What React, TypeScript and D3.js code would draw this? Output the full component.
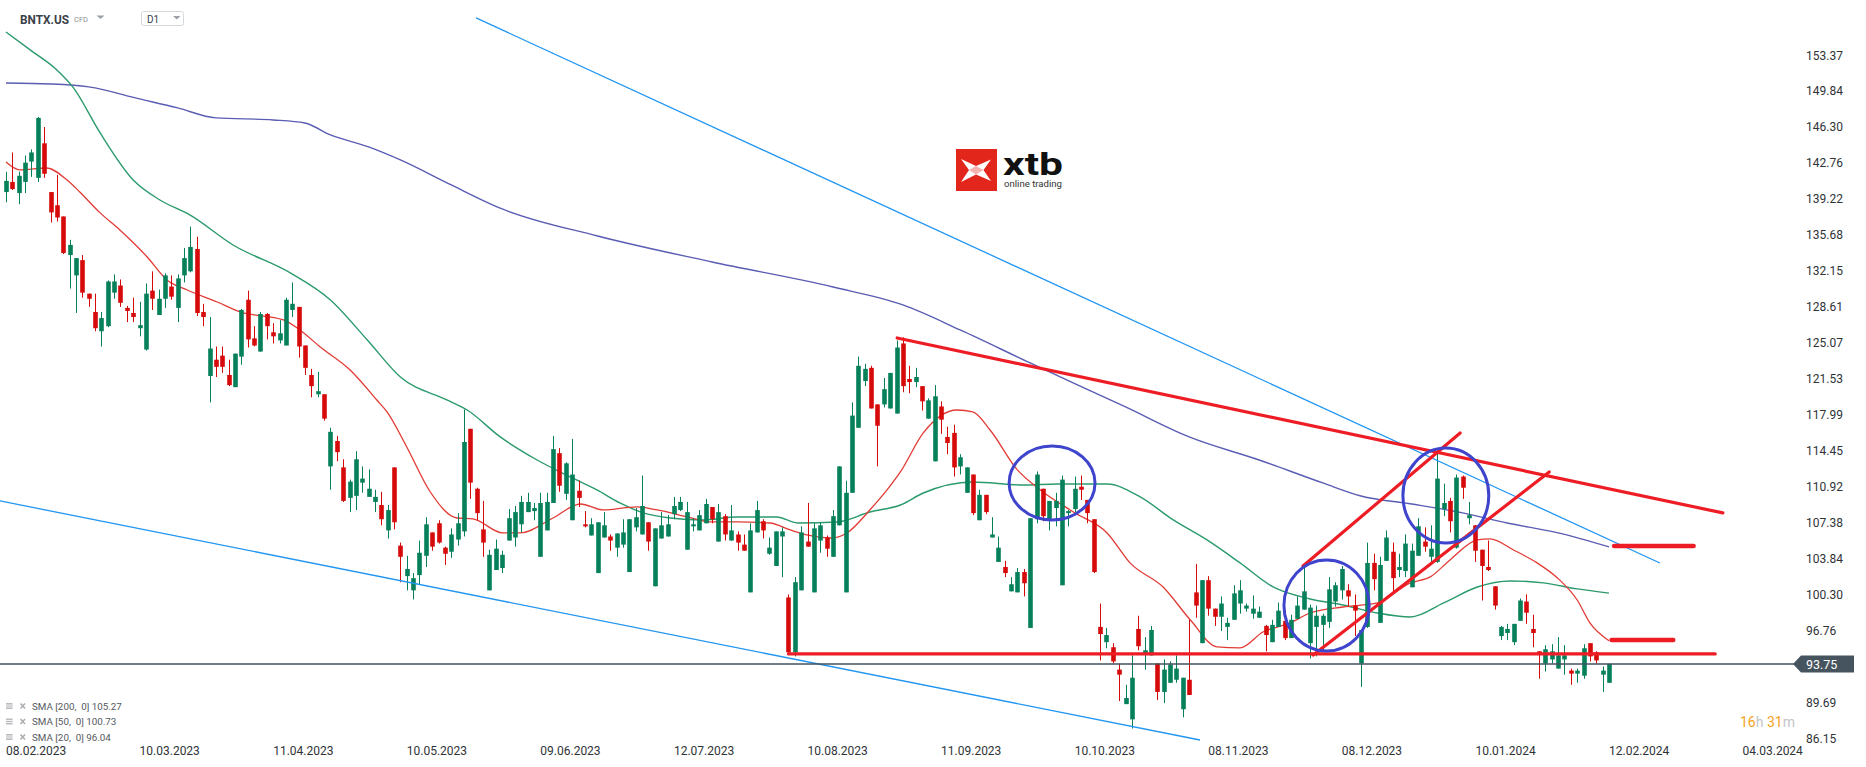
import React from 'react';
import * as d3 from 'd3';

const W = 1866;
const H = 767;

// OHLC per trading day, index 0 = 08.02.2023, index 252 = 12.02.2024
const opens = [140.2,141.2,140.1,141.2,143.2,141.6,145.0,140.2,138.9,137.8,134.0,132.0,133.5,130.2,128.4,126.5,127.0,130.3,131.0,128.8,128.3,126.8,124.7,130.5,128.1,129.7,130.9,128.8,132.0,132.4,134.6,128.4,122.1,123.7,124.1,122.2,121.0,124.0,129.6,125.8,124.5,128.2,126.4,125.6,125.1,128.6,128.9,125.1,122.2,120.3,120.3,113.2,115.7,113.1,110.1,110.3,111.6,110.2,109.7,109.4,106.9,113.1,105.4,102.4,101.0,102.5,104.4,106.7,107.6,105.2,104.8,106.0,106.8,116.9,111.0,107.0,101.0,103.0,103.2,105.9,106.2,107.5,108.7,108.8,104.3,106.9,109.6,114.5,110.5,107.9,110.8,107.5,106.4,102.7,106.2,106.3,105.2,105.5,102.8,107.2,106.5,107.7,101.4,106.1,106.3,108.5,108.9,105.0,107.3,106.9,107.6,109.2,105.8,108.3,105.9,106.5,105.5,100.8,106.7,107.8,104.6,103.4,106.3,100.3,94.9,101.0,105.8,100.8,105.9,106.2,104.3,107.4,100.8,110.6,117.0,121.6,122.9,119.3,119.3,118.9,118.4,125.3,121.8,121.5,121.1,117.9,113.7,119.1,116.1,116.5,113.2,110.6,112.4,107.9,110.4,106.2,103.8,103.3,100.9,100.8,102.8,97.3,108.0,111.0,108.0,109.1,101.5,108.6,109.0,111.2,109.9,108.0,97.4,95.9,95.4,93.2,89.8,88.3,97.2,94.8,94.6,93.8,91.0,91.9,92.2,89.3,92.2,100.8,95.8,102.0,99.2,98.4,97.4,98.1,99.7,99.2,98.7,98.3,97.5,95.9,97.4,98.0,96.3,98.2,99.1,95.8,97.4,97.6,97.9,99.9,101.0,101.0,99.5,93.8,97.4,103.7,97.8,103.9,104.8,103.0,102.9,101.3,104.4,105.8,104.3,103.8,109.0,109.8,105.2,112.2,108.1,107.4,105.0,103.3,101.4,96.5,96.8,95.9,98.0,99.9,97.2,95.0,93.8,94.2,93.3,94.2,93.1,92.8,92.6,95.8,94.9,92.7,91.9];
const highs = [142.2,144.1,142.2,143.8,144.4,147.6,146.6,140.2,141.9,137.8,135.5,133.7,134.0,130.2,130.2,128.4,131.5,132.1,131.6,129.0,129.8,129.4,131.2,132.4,130.6,132.2,132.0,132.1,134.7,136.8,135.8,129.2,127.9,125.0,125.0,123.7,124.3,128.7,130.5,127.0,128.4,128.3,127.3,127.6,129.8,131.3,128.9,125.1,122.8,122.5,120.3,117.0,116.2,113.9,111.9,114.7,113.2,112.9,110.9,110.7,109.4,113.1,105.7,104.4,102.7,105.9,108.2,106.7,107.9,105.3,107.1,108.6,118.8,116.9,111.1,109.8,105.0,106.0,104.9,109.0,109.3,110.3,110.6,109.6,110.6,110.6,116.2,115.0,113.6,115.9,111.8,108.8,108.1,107.7,108.7,106.5,106.6,108.0,108.0,109.1,112.3,107.7,107.1,108.7,108.4,110.2,110.2,109.7,108.1,108.9,110.0,109.2,109.5,108.5,109.4,106.8,106.5,107.6,109.8,108.0,106.2,106.8,107.2,100.6,102.3,107.3,109.6,107.6,107.7,106.4,108.9,113.2,111.8,119.5,124.0,123.3,123.1,119.3,121.9,122.4,125.6,125.9,123.1,122.9,121.1,119.9,121.2,119.6,117.1,117.3,114.4,113.1,112.4,110.9,110.4,108.2,106.3,103.9,102.3,103.2,103.1,108.1,112.7,111.0,109.8,110.6,112.3,108.9,112.2,112.3,109.9,108.0,99.7,97.3,95.8,93.8,91.7,94.6,98.5,96.4,97.5,93.8,94.2,94.0,94.6,92.4,98.1,103.6,102.0,102.4,99.2,100.4,98.3,101.5,102.0,99.7,100.5,99.4,97.6,98.1,99.8,99.0,98.6,100.4,103.2,99.6,99.5,98.7,102.3,101.8,103.4,101.6,100.6,97.1,105.7,104.6,104.3,106.9,105.7,104.6,106.5,105.6,108.1,107.2,107.4,114.6,111.5,110.1,112.4,112.3,109.7,107.4,105.0,105.9,101.4,97.5,97.7,97.7,100.2,100.6,98.6,95.0,95.6,95.7,96.4,95.6,93.3,93.3,95.7,95.8,95.0,93.5,93.8];
const lows = [139.2,140.4,139.0,140.1,141.7,141.2,141.6,137.2,137.3,134.1,130.7,128.3,129.8,128.9,126.5,125.0,126.9,129.7,128.9,127.4,127.4,126.0,124.6,128.6,128.1,128.8,129.6,127.4,131.3,132.3,128.0,127.0,119.5,122.0,122.4,121.1,121.0,123.2,124.9,125.0,124.5,125.7,125.3,125.3,125.1,127.9,123.9,122.2,120.0,120.0,117.7,110.9,113.7,109.7,108.7,108.9,110.6,110.2,108.7,107.4,106.1,107.0,101.8,101.0,100.1,101.6,103.3,104.9,105.6,103.5,104.2,105.4,106.3,110.0,107.9,104.3,101.0,103.0,102.7,105.9,105.3,106.7,108.7,107.9,104.3,106.9,109.6,110.7,109.9,107.9,109.2,107.2,106.4,102.7,106.2,104.9,104.3,105.2,102.8,106.8,106.5,104.9,101.4,106.1,106.3,108.0,108.8,105.0,106.8,106.9,107.6,107.6,105.8,105.9,105.9,104.9,104.9,100.8,106.7,106.1,104.5,103.4,102.3,94.8,94.5,101.0,105.3,100.8,104.7,104.3,104.3,107.4,100.8,110.6,117.0,121.1,118.9,113.2,119.0,118.9,118.4,120.5,120.4,121.0,118.7,117.9,113.7,116.4,114.4,112.2,112.4,110.6,108.4,107.9,108.5,106.2,103.8,102.3,100.9,100.8,100.4,97.3,107.6,107.8,106.9,107.3,101.5,107.3,108.7,109.9,107.6,102.7,94.1,95.3,93.8,90.1,89.8,87.4,95.1,93.2,94.6,90.2,89.9,91.9,91.9,88.5,90.7,98.3,95.8,98.5,97.5,97.0,96.1,98.1,98.7,98.9,98.2,98.3,95.0,95.9,97.4,96.1,96.3,98.2,99.1,94.3,94.5,95.1,97.3,99.4,100.1,99.4,96.5,91.5,97.3,101.0,97.8,103.9,100.9,102.3,102.3,101.3,104.4,104.8,103.7,103.7,108.3,106.7,105.1,110.0,107.5,103.8,100.0,102.9,99.1,96.1,96.1,95.6,98.0,97.7,95.4,92.3,93.0,93.8,93.3,92.7,91.7,91.9,92.3,94.0,93.8,91.0,91.9];
const closes = [141.3,140.5,141.8,143.1,144.1,147.5,142.0,138.2,137.7,134.2,135.0,133.7,130.3,129.7,126.8,127.8,131.4,131.4,129.3,128.5,127.9,127.1,130.2,129.7,129.7,132.0,129.9,131.7,133.7,134.8,128.3,127.9,124.8,123.0,123.0,121.2,124.3,128.6,125.7,125.1,128.2,127.0,126.0,126.3,129.6,129.2,125.0,122.9,121.1,120.6,117.9,116.6,114.6,109.8,111.7,113.9,112.0,111.0,110.2,108.0,108.9,107.7,104.3,103.1,102.2,104.7,107.5,105.3,105.7,104.6,106.5,107.6,115.6,111.6,108.6,105.7,104.5,105.1,104.5,108.1,108.7,109.7,109.7,109.1,109.6,109.7,114.9,111.3,113.5,112.4,110.1,107.3,107.5,107.7,107.4,105.9,106.6,106.7,108.0,108.2,109.3,105.8,107.1,107.4,107.5,109.3,109.7,108.7,107.5,108.4,109.5,108.0,108.7,106.5,106.9,105.7,104.9,106.9,108.9,106.9,105.2,106.8,106.8,94.9,101.8,106.7,105.3,107.1,107.4,105.1,108.3,113.2,110.6,118.2,123.1,122.8,118.9,117.2,120.8,122.4,124.9,121.1,121.5,122.0,119.6,119.7,120.1,117.8,115.5,113.1,114.1,113.1,108.6,110.4,108.7,106.5,105.2,102.7,101.6,102.8,101.7,108.1,112.4,108.3,109.8,109.8,111.9,108.8,111.0,110.9,108.6,102.8,96.7,96.6,94.0,92.7,90.4,92.4,95.5,95.1,97.1,91.0,93.2,93.7,93.3,92.4,90.7,99.5,102.0,99.2,98.4,99.7,97.8,100.7,101.0,99.5,99.2,98.9,96.6,97.6,99.0,96.3,98.1,99.5,100.9,99.3,98.5,98.5,101.1,101.5,103.1,100.4,99.0,97.1,103.7,102.1,103.5,106.2,102.2,103.3,105.6,104.9,107.3,105.3,105.1,112.0,109.6,107.8,112.1,111.1,108.4,104.9,103.4,103.0,99.5,97.4,97.2,97.7,100.0,98.8,96.8,94.7,95.2,95.0,94.6,94.6,92.8,93.1,95.3,94.5,94.1,93.1,93.75];

// Moving averages: [day index, value]
const sma200 = [[0,150.94],[7,150.84],[13,150.55],[21,149.37],[27,148.48],[33,147.5],[42,147.3],[47,147.0],[51,145.82],[57,144.64],[62,143.36],[70,140.9],[78,138.54],[93,135.88],[111,133.32],[130,130.86],[141,129.09],[150,126.63],[161,123.38],[176,119.05],[186,116.1],[197,113.83],[207,111.57],[213,110.29],[221,109.5],[229,108.62],[236,107.63],[244,106.65],[252,105.27]];
const sma50 = [[0,155.96],[3.8,154.19],[8,152.22],[10.5,150.55],[14.8,146.02],[20,141.39],[24.2,139.42],[28.9,137.95],[35.7,134.99],[44.7,132.24],[51,129.58],[56.8,125.64],[62,122.0],[69.3,119.74],[72.5,118.75],[77.7,116.1],[83.5,113.83],[88.7,112.16],[92.9,110.88],[96.5,109.6],[100.2,108.62],[104.4,108.12],[109.6,107.93],[114.9,108.22],[121.2,108.22],[124.4,107.63],[130.7,107.73],[135.8,108.71],[140.6,109.4],[144.2,110.58],[152,111.67],[159.9,111.37],[165.3,111.47],[173.1,111.47],[178.3,110.19],[183.5,107.93],[188.8,105.96],[194,103.7],[199.2,101.33],[205,100.15],[210.2,99.56],[215.6,98.77],[220.8,98.38],[226,99.76],[231.3,101.33],[236.5,101.92],[241.7,101.73],[247,101.14],[252,100.73]];
const sma20 = [[0,143.16],[2.2,142.38],[6.4,142.57],[9.6,141.39],[11.6,140.21],[14.8,138.15],[17.9,136.47],[22.2,133.81],[25.3,131.55],[28.5,130.56],[33.2,129.38],[36.8,128.4],[43.6,127.61],[46.2,126.63],[49.4,124.95],[54.1,122.69],[58.3,119.73],[59.9,118.56],[63,115.11],[66.7,110.68],[70.9,108.12],[73.4,108.03],[78.1,106.65],[80.8,106.65],[86,108.12],[90.3,109.5],[93.9,108.91],[99.2,109.21],[102.4,108.91],[107.1,108.22],[110.7,107.73],[114.9,107.73],[120.1,107.63],[123.3,106.94],[125.9,106.45],[129.6,106.15],[132.2,106.65],[135.8,108.91],[138.5,110.88],[140.6,112.65],[144.2,116.49],[149.5,118.75],[152,118.56],[154.7,116.78],[159,112.85],[162.6,110.88],[167.8,108.71],[173.1,106.65],[176.7,103.7],[181.9,101.33],[186.2,98.08],[190.4,95.43],[194,95.33],[197.6,96.9],[201.9,97.79],[205,98.77],[210.2,99.36],[215.6,99.76],[220.8,101.73],[223.9,102.32],[227,103.99],[231.3,105.96],[233.3,106.06],[237,104.97],[240.7,103.7],[243.9,102.22],[247,100.05],[249,97.79],[252,96.04]];

const dateLabels = ['08.02.2023','10.03.2023','11.04.2023','10.05.2023','09.06.2023','12.07.2023','10.08.2023','11.09.2023','10.10.2023','08.11.2023','08.12.2023','10.01.2024','12.02.2024','04.03.2024'];
const dateLabelIdx = [0,21,42,63,84,105,126,147,168,189,210,231,252,273];

const priceTicks = [153.37,149.84,146.30,142.76,139.22,135.68,132.15,128.61,125.07,121.53,117.99,114.45,110.92,107.38,103.84,100.30,96.76,93.23,89.69,86.15];
const lastPrice = 93.75;

const legendItems = ['SMA [200,  0] 105.27','SMA [50,  0] 100.73','SMA [20,  0] 96.04'];

// Drawn annotations, in [day index, price]
const blueTrendLines = [
  [[73.9,157.34],[260.0,103.69]],
  [[-0.94,109.8],[187.7,86.27]],
];
const redThickLines = [
  [[140.1,125.84],[269.9,108.62]],
  [[123,94.74],[268.7,94.74]],
  [[203.9,103.4],[228.6,116.49]],
  [[205.5,94.64],[242.6,112.65]],
];
const redLevelMarks = [
  [[252.8,105.37],[265.3,105.37]],
  [[252.4,96.1],[262.1,96.1]],
];
const circles = [
  [[157.7,115.21],[171.2,107.93]],
  [[200.9,103.99],[214.3,95.03]],
  [[219.6,115.01],[233.1,105.66]],
];

const GREEN = '#06805a';
const RED = '#d60a0a';
const FONT = 'Roboto, "Noto Sans", Arial, sans-serif';

export default function App() {
  const x = d3.scaleLinear().domain([0, 252]).range([6, 1609]);
  const y = d3.scaleLinear().domain([93.75, 153.37]).range([664, 664 - (153.37 - 93.75) * 10.16]);
  const smaLine = d3.line<number[]>().x(d => x(d[0])).y(d => y(d[1])).curve(d3.curveMonotoneX);
  const seg = d3.line<number[]>().x(d => x(d[0])).y(d => y(d[1]));
  const bw = 4.6;
  const lastY = y(lastPrice);

  return (
    <svg width={W} height={H} style={{ position: 'absolute', left: 0, top: 0, display: 'block', background: '#fff' }} fontFamily={FONT}>
      <defs>
        <clipPath id="plot"><rect x={0} y={0} width={1790} height={767} /></clipPath>
      </defs>
      <rect x={0} y={0} width={W} height={H} fill="#ffffff" />

      {/* header */}
      <text x={20} y={24} fontSize={13} fontWeight={700} fill="#3b4148" textLength={49} lengthAdjust="spacingAndGlyphs">BNTX.US</text>
      <text x={74} y={22} fontSize={7.5} fill="#8a8f94">CFD</text>
      <path d="M96.5,15.5 L104.5,15.5 L100.5,19 Z" fill="#9aa0a6" />
      <rect x={141.5} y={11.5} width={42} height={14} rx={2} fill="#fff" stroke="#d5d8db" />
      <text x={147} y={23} fontSize={10} fill="#3b4148">D1</text>
      <path d="M173,16 L180.5,16 L176.75,19.5 Z" fill="#9aa0a6" />

      {/* xtb logo */}
      <rect x={956} y={149} width={41} height={42} fill="#e3261c" />
      <path d="M961,159 L976,166 L991,159.5 L983.5,170 L991,181 L976,174.5 L961,182 L969,170 Z" fill="#fff" />
      <path d="M969,170 L983.5,170 L976,166 Z M969,170 L983.5,170 L976,174.5 Z" fill="#e3261c" opacity={0.35} />
      <text x={1003} y={175} fontSize={32} fontWeight={700} fill="#111" textLength={60} lengthAdjust="spacingAndGlyphs">xtb</text>
      <text x={1004} y={187} fontSize={9.5} fill="#333" textLength={58} lengthAdjust="spacingAndGlyphs">online trading</text>

      <g clipPath="url(#plot)">
        {/* moving averages */}
        <path d={smaLine(sma200) || ''} fill="none" stroke="#5a5db3" strokeWidth={1.4} />
        <path d={smaLine(sma50) || ''} fill="none" stroke="#2b9a6c" strokeWidth={1.4} />
        <path d={smaLine(sma20) || ''} fill="none" stroke="#e23b35" strokeWidth={1.3} />

        {/* candles */}
        {closes.map((c, i) => {
          const o = opens[i];
          const up = c >= o;
          const col = up ? GREEN : RED;
          const cx = Math.round(x(i)) + 0.5;
          const top = y(Math.max(o, c));
          const bot = y(Math.min(o, c));
          return (
            <g key={i}>
              <line x1={cx} x2={cx} y1={y(highs[i])} y2={y(lows[i])} stroke={col} strokeWidth={1} />
              <rect x={cx - bw / 2} y={top} width={bw} height={Math.max(1.2, bot - top)} fill={col} />
            </g>
          );
        })}

        {/* blue trend lines */}
        {blueTrendLines.map((l, i) => (
          <path key={'b' + i} d={seg(l) || ''} stroke="#2196f3" strokeWidth={1.3} fill="none" />
        ))}

        {/* red thick lines */}
        {redThickLines.map((l, i) => (
          <path key={'r' + i} d={seg(l) || ''} stroke="#ee1d25" strokeWidth={3.2} fill="none" strokeLinecap="round" />
        ))}
        {redLevelMarks.map((l, i) => (
          <path key={'m' + i} d={seg(l) || ''} stroke="#ee1d25" strokeWidth={4.5} fill="none" strokeLinecap="round" />
        ))}

        {/* blue circles */}
        {circles.map((c, i) => {
          const x0 = x(c[0][0]), x1 = x(c[1][0]);
          const y0 = y(c[0][1]), y1 = y(c[1][1]);
          return (
            <ellipse key={'c' + i} cx={(x0 + x1) / 2} cy={(y0 + y1) / 2} rx={(x1 - x0) / 2} ry={(y1 - y0) / 2}
              fill="none" stroke="#3e44cc" strokeWidth={3} />
          );
        })}
      </g>

      {/* current price line */}
      <line x1={0} x2={1794} y1={lastY} y2={lastY} stroke="#44525d" strokeWidth={1.3} />

      {/* price axis */}
      {priceTicks.map((v, i) => (
        <text key={'t' + i} x={1806} y={y(v) - 3} dy="0.36em" fontSize={12} fill="#2f3337">{v.toFixed(2)}</text>
      ))}
      <path d={`M1793,${lastY} L1801,${lastY - 8.5} L1854,${lastY - 8.5} L1854,${lastY + 8.5} L1801,${lastY + 8.5} Z`} fill="#46545f" />
      <text x={1806} y={lastY + 4.5} fontSize={12.5} fill="#ffffff">{lastPrice.toFixed(2)}</text>

      {/* countdown */}
      <text x={1740} y={727} fontSize={14}>
        <tspan fill="#f5a21e">16</tspan><tspan fill="#c2c5c8">h </tspan><tspan fill="#f5a21e">31</tspan><tspan fill="#c2c5c8">m</tspan>
      </text>

      {/* date axis */}
      {dateLabels.map((d, i) => (
        <text key={'d' + i} x={x(dateLabelIdx[i])} y={754.5} fontSize={12} fill="#2f3337">{d}</text>
      ))}

      {/* legend */}
      {legendItems.map((t, i) => {
        const by = 709.5 + i * 15.5;
        return (
          <g key={'l' + i}>
            <rect x={6} y={by - 6.5} width={6.5} height={6} fill="#b9bcc0" />
            <line x1={6} x2={12.5} y1={by - 4.5} y2={by - 4.5} stroke="#fff" strokeWidth={0.8} />
            <line x1={6} x2={12.5} y1={by - 2.5} y2={by - 2.5} stroke="#fff" strokeWidth={0.8} />
            <path d={`M20.5,${by - 6} L25,${by - 1} M25,${by - 6} L20.5,${by - 1}`} stroke="#a9adb1" strokeWidth={1.5} />
            <text x={32} y={by} fontSize={9.8} fill="#55595e" style={{ whiteSpace: 'pre' }}>{t}</text>
          </g>
        );
      })}
    </svg>
  );
}
